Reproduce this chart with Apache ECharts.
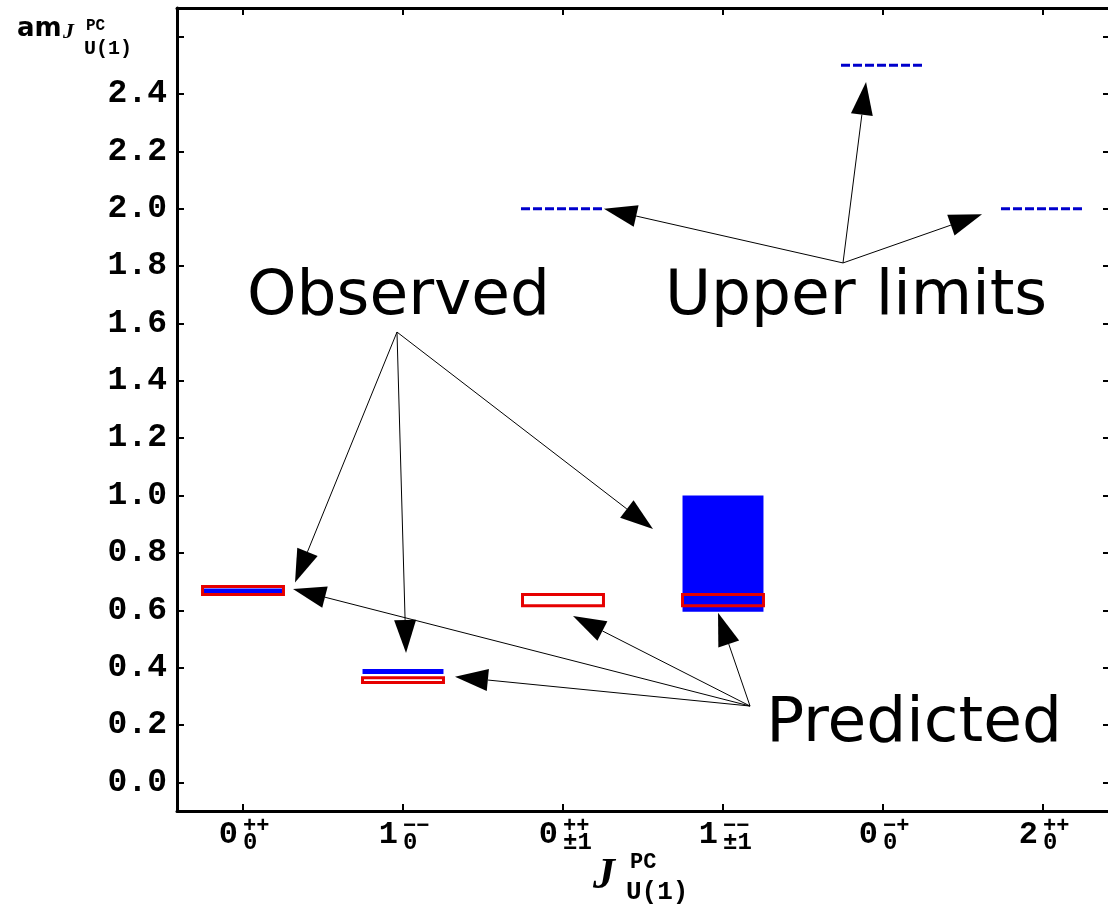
<!DOCTYPE html>
<html>
<head>
<meta charset="utf-8">
<script src="https://cdn.jsdelivr.net/npm/echarts@6/dist/echarts.min.js"></script>
<style>
    html, body { margin: 0; padding: 0; background: #fff; }
    #chart { width: 1108px; height: 912px; }
</style>
</head>
<body>
<div id="chart"></div>
<script>
// states on the x axis: J, then PC, then the U(1) charge
const stateIndex = [0, 1, 2, 3, 4, 5];
const stateJ = ["0", "1", "0", "1", "0", "2"];
const statePC = ["++", "\u2212\u2212", "++", "\u2212\u2212", "\u2212+", "++"];
const stateCharge = ["0", "0", "\u00b11", "\u00b11", "0", "0"];

// observed masses (blue bars), low and high edge
const observedState = [0, 1, 3];
const observedLow = [0.655, 0.378, 0.595];
const observedHigh = [0.676, 0.395, 1.0];

// predicted masses (red boxes)
const predictedState = [0, 1, 2, 3];
const predictedLow = [0.655, 0.348, 0.616, 0.616];
const predictedHigh = [0.683, 0.365, 0.655, 0.655];

// upper limits (dashed)
const limitState = [2, 4, 5];
const limitValue = [2.0, 2.5, 2.0];

// y axis ticks, and the ones that get a label
const yTicks = [0, 0.2, 0.4, 0.6, 0.8, 1.0, 1.2, 1.4, 1.6, 1.8, 2.0, 2.2, 2.4, 2.6];
const yLabels = [0, 0.2, 0.4, 0.6, 0.8, 1.0, 1.2, 1.4, 1.6, 1.8, 2.0, 2.2, 2.4];

// annotation words, placed in data units
const noteText = ["Observed", "Upper limits", "Predicted"];
const noteAt = [[0.025, 1.689], [2.6375, 1.689], [3.27, 0.2]];

// arrows: from x, from y, to x, to y
const arrows = [
    [0.9625, 1.570, 0.325, 0.697],
    [0.9625, 1.570, 1.019, 0.451],
    [0.9625, 1.570, 2.5625, 0.883],
    [3.75, 1.811, 2.256, 2.0],
    [3.75, 1.811, 3.894, 2.442],
    [3.75, 1.811, 4.619, 1.981],
    [3.169, 0.266, 0.3125, 0.674],
    [3.169, 0.266, 1.325, 0.368],
    [3.169, 0.266, 2.0625, 0.580],
    [3.169, 0.266, 2.969, 0.591],
];

const X_MIN = -0.4125;
const X_MAX = 5.4188;
const HALF = 0.253;
const monoBold = "Liberation Mono";

const chart = echarts.init(document.getElementById("chart"));

const frameLine = { show: true, onZero: false, lineStyle: { color: "#000", width: 3 } };

function boxRenderer(fill, stroke, width) {
    return function (params, api) {
        const c = api.value(0);
        const a = api.coord([c - HALF, api.value(2)]);
        const b = api.coord([c + HALF, api.value(1)]);
        return {
            type: "rect",
            shape: { x: a[0], y: a[1], width: b[0] - a[0], height: b[1] - a[1] },
            style: { fill: fill, stroke: stroke, lineWidth: width },
        };
    };
}

function limitRenderer(params, api) {
    const c = api.value(0);
    const a = api.coord([c - 0.2625, api.value(1)]);
    const b = api.coord([c + 0.2625, api.value(1)]);
    return {
        type: "line",
        shape: { x1: a[0], y1: a[1], x2: b[0], y2: b[1] },
        style: { stroke: "#0000cc", lineWidth: 3, lineDash: [9, 3] },
    };
}

function arrowRenderer(params, api) {
    const p0 = api.coord([api.value(0), api.value(1)]);
    const p1 = api.coord([api.value(2), api.value(3)]);
    const dx = p1[0] - p0[0];
    const dy = p1[1] - p0[1];
    const len = Math.hypot(dx, dy);
    const ux = dx / len;
    const uy = dy / len;
    const headLen = 33;
    const headHalf = 11;
    const bx = p1[0] - ux * headLen;
    const by = p1[1] - uy * headLen;
    return {
        type: "group",
        children: [
            {
                type: "line",
                shape: { x1: p0[0], y1: p0[1], x2: bx, y2: by },
                style: { stroke: "#000", lineWidth: 1 },
            },
            {
                type: "polygon",
                shape: { points: [p1, [bx - uy * headHalf, by + ux * headHalf], [bx + uy * headHalf, by - ux * headHalf]] },
                style: { fill: "#000" },
            },
        ],
    };
}

function noteRenderer(params, api) {
    const p = api.coord([api.value(0), api.value(1)]);
    return {
        type: "text",
        x: p[0],
        y: p[1],
        style: {
            text: noteText[params.dataIndex],
            font: "63px 'DejaVu Sans'",
            fill: "#000",
            align: "left",
            verticalAlign: "middle",
        },
    };
}

const option = {
    animation: false,
    backgroundColor: "#fff",
    grid: { left: 177, right: -2, top: 8, bottom: 101, containLabel: false, outerBoundsMode: "none" },
    xAxis: [
        {
            type: "value", position: "bottom", min: X_MIN, max: X_MAX,
            axisLine: frameLine,
            axisTick: { show: true, inside: true, length: 7, customValues: stateIndex, lineStyle: { color: "#000", width: 2 } },
            axisLabel: {
                customValues: stateIndex, margin: 8, align: "right", padding: [0, 5, 0, 0],
                formatter: (v) => stateJ[Math.round(v)],
                fontFamily: monoBold, fontWeight: "bold", fontSize: 32, color: "#000",
            },
            splitLine: { show: false },
        },
        {
            type: "value", position: "bottom", min: X_MIN, max: X_MAX,
            axisLine: { show: false }, axisTick: { show: false }, splitLine: { show: false },
            axisLabel: {
                customValues: stateIndex, margin: 4, align: "left", padding: [0, 0, 0, 0],
                formatter: (v) => statePC[Math.round(v)],
                fontFamily: monoBold, fontWeight: "bold", fontSize: 22, color: "#000",
            },
        },
        {
            type: "value", position: "bottom", min: X_MIN, max: X_MAX,
            axisLine: { show: false }, axisTick: { show: false }, splitLine: { show: false },
            axisLabel: {
                customValues: stateIndex, margin: 20, align: "left", padding: [0, 0, 0, 0],
                formatter: (v) => stateCharge[Math.round(v)],
                fontFamily: monoBold, fontWeight: "bold", fontSize: 24, color: "#000",
            },
        },
        {
            type: "value", position: "top", min: X_MIN, max: X_MAX,
            axisLine: frameLine,
            axisTick: { show: true, inside: true, length: 7, customValues: stateIndex, lineStyle: { color: "#000", width: 2 } },
            axisLabel: { show: false }, splitLine: { show: false },
        },
    ],
    yAxis: [
        {
            type: "value", position: "left", min: -0.1, max: 2.7,
            axisLine: frameLine,
            axisTick: { show: true, inside: true, length: 7, customValues: yTicks, lineStyle: { color: "#000", width: 2 } },
            axisLabel: {
                customValues: yLabels, margin: 10,
                formatter: (v) => v.toFixed(1),
                fontFamily: monoBold, fontWeight: "bold", fontSize: 33, color: "#000",
            },
            splitLine: { show: false },
        },
        {
            type: "value", position: "right", min: -0.1, max: 2.7,
            axisLine: frameLine,
            axisTick: { show: true, inside: true, length: 7, customValues: yTicks, lineStyle: { color: "#000", width: 2 } },
            axisLabel: { show: false }, splitLine: { show: false },
        },
    ],
    graphic: [
        { type: "text", left: 17, top: 16, style: { text: "am", font: "bold 26px 'DejaVu Sans'", fill: "#000" } },
        { type: "text", left: 63, top: 21, style: { text: "J", font: "italic bold 22px 'Liberation Serif'", fill: "#000" } },
        { type: "text", left: 86, top: 18, style: { text: "PC", font: "bold 16px 'Liberation Mono'", fill: "#000" } },
        { type: "text", left: 84, top: 39, style: { text: "U(1)", font: "bold 20px 'Liberation Mono'", fill: "#000" } },
        { type: "text", left: 593, top: 855, style: { text: "J", font: "italic bold 44px 'Liberation Serif'", fill: "#000" } },
        { type: "text", left: 630, top: 851, style: { text: "PC", font: "bold 22px 'Liberation Mono'", fill: "#000" } },
        { type: "text", left: 626, top: 879, style: { text: "U(1)", font: "bold 26px 'Liberation Mono'", fill: "#000" } },
    ],
    series: [
        {
            name: "Observed", type: "custom", xAxisIndex: 0, yAxisIndex: 0, silent: true, clip: false,
            renderItem: boxRenderer("#0000ff", null, 0),
            encode: { x: 0, y: [1, 2] },
            data: observedState.map((s, i) => [s, observedLow[i], observedHigh[i]]),
            z: 2,
        },
        {
            name: "Predicted", type: "custom", xAxisIndex: 0, yAxisIndex: 0, silent: true, clip: false,
            renderItem: boxRenderer(null, "#e60000", 3),
            encode: { x: 0, y: [1, 2] },
            data: predictedState.map((s, i) => [s, predictedLow[i], predictedHigh[i]]),
            z: 3,
        },
        {
            name: "Upper limits", type: "custom", xAxisIndex: 0, yAxisIndex: 0, silent: true, clip: false,
            renderItem: limitRenderer,
            encode: { x: 0, y: 1 },
            data: limitState.map((s, i) => [s, limitValue[i]]),
            z: 3,
        },
        {
            name: "arrows", type: "custom", xAxisIndex: 0, yAxisIndex: 0, silent: true, clip: false,
            renderItem: arrowRenderer,
            encode: { x: [0, 2], y: [1, 3] },
            data: arrows,
            z: 4,
        },
        {
            name: "notes", type: "custom", xAxisIndex: 0, yAxisIndex: 0, silent: true, clip: false,
            renderItem: noteRenderer,
            encode: { x: 0, y: 1 },
            data: noteAt,
            z: 4,
        },
    ],
};

chart.setOption(option);
</script>
</body>
</html>
